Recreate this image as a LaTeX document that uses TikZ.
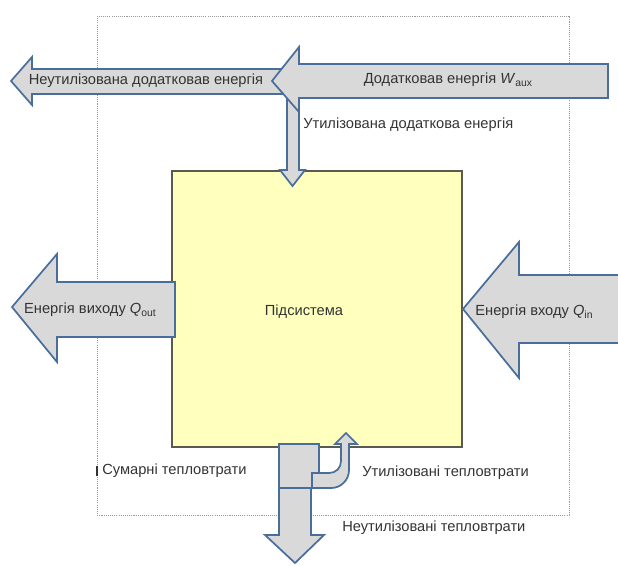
\documentclass[tikz,border=0pt]{standalone}
\usepackage{fontspec}
\setmainfont{Liberation Sans}
\definecolor{arrowfill}{HTML}{D9D9D9}
\definecolor{arrowline}{HTML}{4A6E9B}
\definecolor{boxfill}{HTML}{FFFFBE}
\definecolor{boxline}{HTML}{5A5A50}
\definecolor{txt}{HTML}{333333}
\tikzset{
  blockarrow/.style={fill=arrowfill,draw=arrowline,line width=1.3pt,line join=miter},
  subsys/.style={fill=boxfill,draw=boxline,line width=1pt},
  frame/.style={draw=gray!80,line width=0.6pt,dash pattern=on 0.8pt off 0.8pt},
  lbl/.style={text=txt,font=\fontsize{11pt}{13pt}\selectfont,inner sep=0pt},
}
\newcommand{\qsub}[2]{\textit{#1}\raisebox{-0.35ex}{\fontsize{7.8pt}{9pt}\selectfont #2}}
\begin{document}
\begin{tikzpicture}[x=0.75pt,y=-0.75pt]
\useasboundingbox (0,0) rectangle (618,565);
% outer dotted frame
\draw[frame] (97,16) rectangle (569,515);
% subsystem box
\draw[subsys] (172,171) rectangle (462,447);
% vertical arrow (utilised auxiliary energy)
\draw[blockarrow] (287,92) -- (299,92) -- (299,170) -- (305,170) -- (292.5,186) -- (280,170) -- (287,170) -- cycle;
% unused auxiliary energy arrow
\draw[blockarrow] (11,81) -- (32,57) -- (32,69) -- (292,69) -- (292,94) -- (32,94) -- (32,105) -- cycle;
% auxiliary energy input arrow
\draw[blockarrow] (272,81) -- (299,47) -- (299,64) -- (608,64) -- (608,98) -- (299,98) -- (299,112) -- cycle;
% output energy arrow
\draw[blockarrow] (12,307) -- (57,254) -- (57,282) -- (175,282) -- (175,337) -- (57,337) -- (57,362) -- cycle;
% input energy arrow
\draw[blockarrow] (463,309) -- (519,242) -- (519,275) -- (625,275) -- (625,343) -- (519,343) -- (519,378) -- cycle;
% unused heat losses arrow
\draw[blockarrow] (279,480) -- (311,480) -- (311,535) -- (324,535) -- (295,563) -- (265,535) -- (279,535) -- cycle;
% total heat losses box
\draw[blockarrow] (279,444) rectangle (319,488);
% utilised heat losses bent arrow
\draw[blockarrow] (312,473) -- (329,473) .. controls (336,473) and (341,468) .. (341,461) -- (341,444) -- (335,444) -- (346,433) -- (357,444) -- (349,444) -- (349,470) .. controls (349,480) and (341,488) .. (331,488) -- (312,488) -- cycle;
% marker bar
\draw[txt,line width=1.4pt] (97,466) -- (97,476);
% labels
\node[lbl] (unaux) at (146,81) {Неутилізована додатковав енергія};
\node[lbl] (aux) at (448,80) {Додатковав енергія \qsub{W}{aux}};
\node[lbl,anchor=west] (useaux) at (303,125) {Утилізована додаткова енергія};
\node[lbl] (sub) at (304,312) {Підсистема};
\node[lbl] (qout) at (90,310) {Енергія виходу \qsub{Q}{out}};
\node[lbl] (qin) at (534,312) {Енергія входу \qsub{Q}{in}};
\node[lbl,anchor=west] (total) at (102,471) {Сумарні тепловтрати};
\node[lbl,anchor=west] (useheat) at (362,473) {Утилізовані тепловтрати};
\node[lbl,anchor=west] (unheat) at (342,528) {Неутилізовані тепловтрати};
\end{tikzpicture}
\end{document}
